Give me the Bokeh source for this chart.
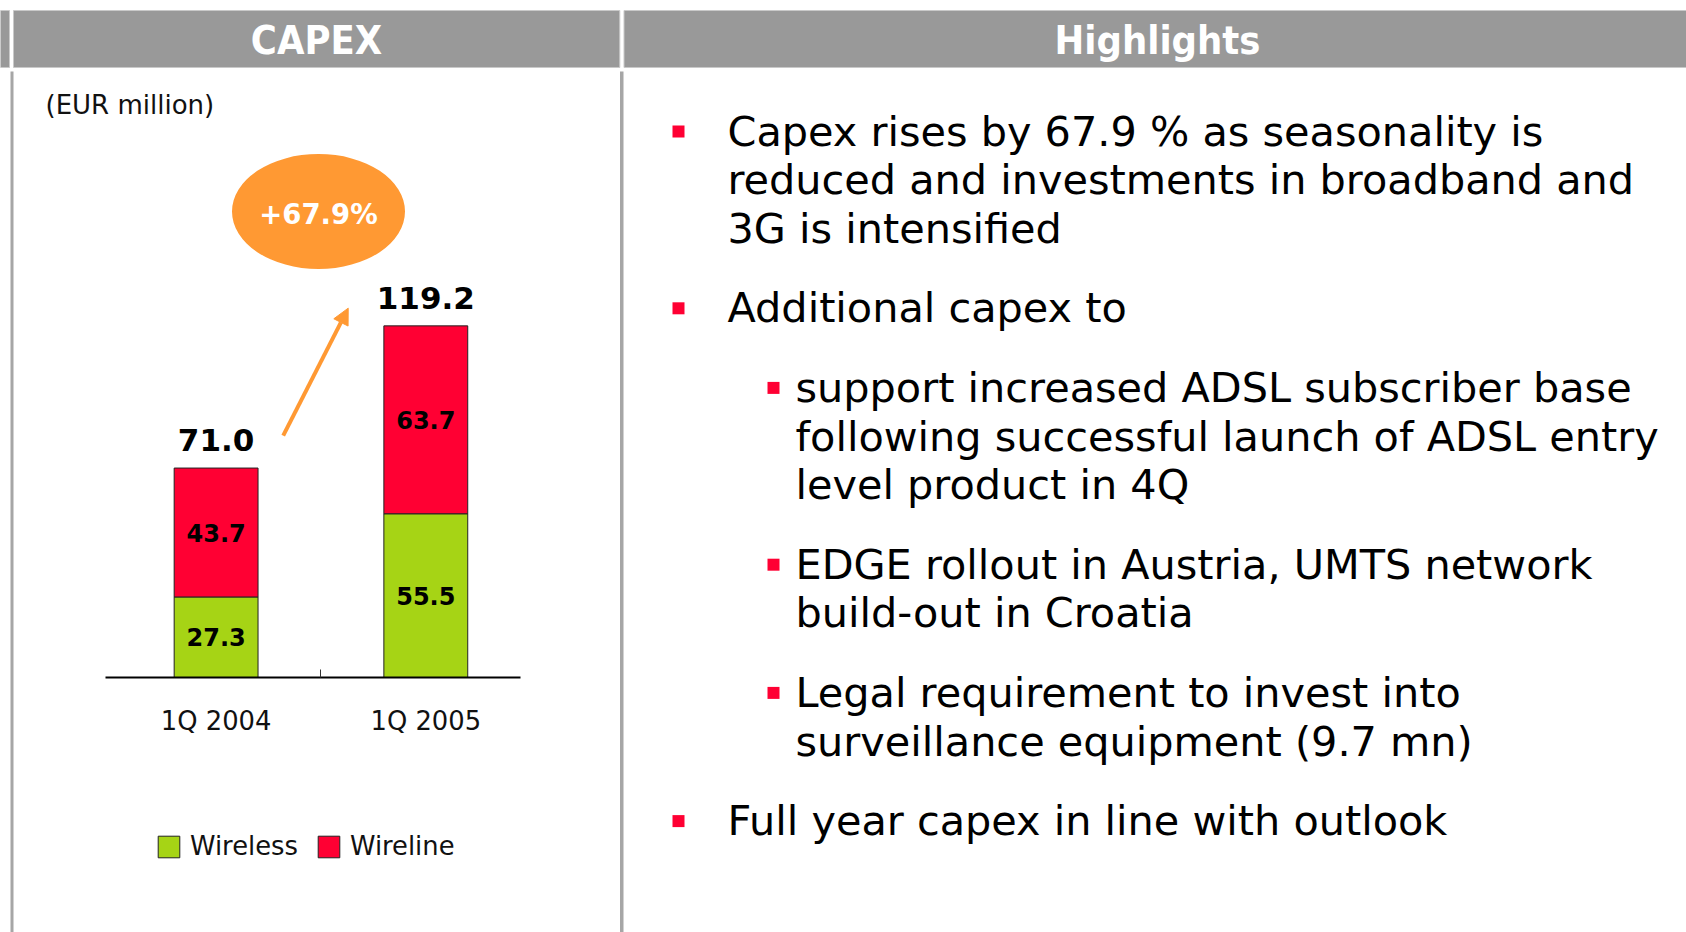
from bokeh.plotting import figure
from bokeh.models import (Range1d, LinearAxis, FixedTicker, Arrow, NormalHead,
                          Legend, LegendItem, ColumnDataSource)
from bokeh.core.properties import value
from bokeh.embed import file_html
from bokeh.resources import INLINE

# ---------------- data ----------------
categories = ["1Q 2004", "1Q 2005"]
wireless = [27.3, 55.5]
wireline = [43.7, 63.7]
series_names = ["Wireless", "Wireline"]
unit_label = "(EUR million)"
panel_titles = ["CAPEX", "Highlights"]
highlights = [
    (0, ["Capex rises by 67.9 % as seasonality is",
         "reduced and investments in broadband and",
         "3G is intensified"]),
    (0, ["Additional capex to"]),
    (1, ["support increased ADSL subscriber base",
         "following successful launch of ADSL entry",
         "level product in 4Q"]),
    (1, ["EDGE rollout in Austria, UMTS network",
         "build-out in Croatia"]),
    (1, ["Legal requirement to invest into",
         "surveillance equipment (9.7 mn)"]),
    (0, ["Full year capex in line with outlook"]),
]

# ---------------- styling ----------------
GREEN = "#A6D415"
RED = "#FF0033"
ORANGE = "#FF9933"
HEAD_GRAY = "#999999"
LINE_GRAY = "#A6A6A6"
FONT = value("DejaVu Sans")
HFONT = value("DejaVu Sans Condensed")

W, H = 1686, 932
X0, Y0 = 0, 0

p = figure(width=W, height=H, x_range=Range1d(X0, X0 + W), y_range=Range1d(Y0 + H, Y0),
           output_backend="svg", toolbar_location=None,
           x_axis_type=None, y_axis_type=None, min_border=0)
p.outline_line_color = None
p.background_fill_color = "white"
p.border_fill_color = "white"

# chart scales: category positions and value scale (px per unit)
BASE_PX = 677.0
K = 2.95
CAT0_PX, CAT_STEP = 215.6, 209.7
p.extra_y_ranges = {"val": Range1d(-(Y0 + H - BASE_PX) / K, (BASE_PX - Y0) / K)}
p.extra_x_ranges = {"cat": Range1d((X0 - CAT0_PX) / CAT_STEP, (X0 + W - CAT0_PX) / CAT_STEP)}

# ---------------- slide frame ----------------
p.quad(left=[-2, 13, 623.5], right=[9, 619.3, X0 + W + 2], top=[10] * 3, bottom=[67] * 3,
       fill_color=HEAD_GRAY, line_color="#C9C9C9", line_width=1)
p.quad(left=[10, 619.5], right=[13, 623], top=[71, 71], bottom=[Y0 + H] * 2,
       fill_color=LINE_GRAY, line_color=None)
p.text(x=[316, 1157], y=[39, 39], text=panel_titles, text_color="white",
       text_font=HFONT, text_font_style="bold", text_font_size="39.5px",
       text_align="center", text_baseline="middle")

# ---------------- chart ----------------
p.text(x=[45], y=[104], text=[unit_label], text_font=FONT, text_font_size="26px",
       text_color="#111111", text_baseline="middle")

idx = list(range(len(categories)))
src = ColumnDataSource(dict(x=idx, Wireless=wireless, Wireline=wireline))
rs = p.vbar_stack(series_names, x="x", width=0.4, source=src,
                  fill_color=[GREEN, RED], line_color="#222222", line_width=1,
                  x_range_name="cat", y_range_name="val")

seg_y = [w / 2 for w in wireless] + [w + l / 2 for w, l in zip(wireless, wireline)]
seg_t = [f"{v:.1f}" for v in wireless + wireline]
p.text(x=idx + idx, y=seg_y, text=seg_t, text_font=FONT, text_font_style="bold",
       text_font_size="24px", text_align="center", text_baseline="middle",
       text_color="black", x_range_name="cat", y_range_name="val")

totals = [w + l for w, l in zip(wireless, wireline)]
p.text(x=idx, y=totals, text=[f"{t:.1f}" for t in totals], text_font=FONT,
       text_font_style="bold", text_font_size="31px", text_align="center",
       text_baseline="bottom", y_offset=-17, text_color="black",
       x_range_name="cat", y_range_name="val")

growth = (totals[1] / totals[0] - 1) * 100
p.ellipse(x=[318], y=[211], width=[173], height=[115], fill_color=ORANGE, line_color=None)
p.text(x=[318], y=[213], text=[f"+{growth:.1f}%"], text_color="white", text_font=FONT,
       text_font_style="bold", text_font_size="27.5px", text_align="center",
       text_baseline="middle")

p.add_layout(Arrow(x_start=0.32, y_start=totals[0] + 11, x_end=0.63, y_end=totals[1] + 6,
                   x_range_name="cat", y_range_name="val",
                   line_color=ORANGE, line_width=4,
                   end=NormalHead(size=16, fill_color=ORANGE, line_color=ORANGE)))

ax = LinearAxis(x_range_name="cat", y_range_name="val", fixed_location=0,
                ticker=FixedTicker(ticks=idx, minor_ticks=[0.5]),
                major_label_overrides={i: c for i, c in enumerate(categories)},
                bounds=((105 - CAT0_PX) / CAT_STEP, (520 - CAT0_PX) / CAT_STEP))
ax.axis_line_color = "black"
ax.axis_line_width = 2
ax.major_tick_in = 0
ax.major_tick_out = 0
ax.minor_tick_in = 8
ax.minor_tick_out = 0
ax.minor_tick_line_color = "#333333"
ax.major_label_text_font = "DejaVu Sans"
ax.major_label_text_font_size = "25.8px"
ax.major_label_text_color = "#111111"
ax.major_label_standoff = 28
p.add_layout(ax, "below")

legend = Legend(items=[LegendItem(label=n, renderers=[r]) for n, r in zip(series_names, rs)],
                orientation="horizontal", location=(155, 71), padding=0, margin=0,
                spacing=17, label_standoff=8, glyph_width=27, glyph_height=27,
                label_text_font="DejaVu Sans", label_text_font_size="25.8px",
                label_text_color="#111111", background_fill_alpha=0,
                border_line_color=None)
p.add_layout(legend)

# ---------------- highlights ----------------
y = 131.0
PITCH, GAP = 48.6, 31.0
bx, by, tx, ty, tt = [], [], [], [], []
for level, lines in highlights:
    bx.append(678 if level == 0 else 773)
    by.append(y)
    for line in lines:
        tx.append(727 if level == 0 else 795)
        ty.append(y)
        tt.append(line)
        y += PITCH
    y += GAP
p.rect(x=bx, y=by, width=12, height=12, fill_color=RED, line_color=None)
p.text(x=tx, y=ty, text=tt, text_font=FONT, text_font_size="41.4px",
       text_color="black", text_baseline="middle")

open("out.html", "w").write(file_html(p, INLINE))
